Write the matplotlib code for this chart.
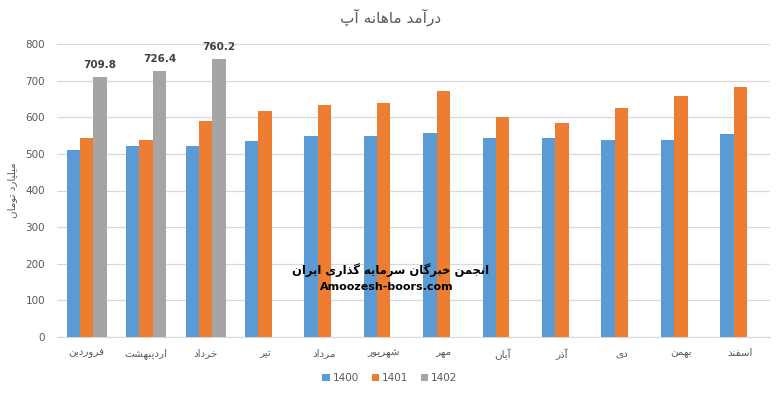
import matplotlib
matplotlib.use("Agg")
import matplotlib.pyplot as plt
import numpy as np

# ---------------- data ----------------
months = ["فروردین", "اردیبهشت", "خرداد", "تیر", "مرداد", "شهریور",
          "مهر", "آبان", "آذر", "دی", "بهمن", "اسفند"]
v1400 = [511, 522, 522, 536, 550, 550, 556, 542, 542, 539, 539, 553]
v1401 = [544, 538, 590, 618, 634, 639, 672, 601, 584, 626, 659, 683]
v1402 = [709.8, 726.4, 760.2]
series_names = ["1400", "1401", "1402"]
title_text = "درآمد ماهانه آپ"
ylabel_text = "میلیارد تومان"
watermark1 = "انجمن خبرگان سرمایه گذاری ایران"
watermark2 = "Amoozesh-boors.com"
yticks = [0, 100, 200, 300, 400, 500, 600, 700, 800]

# ---------------- minimal Arabic/Persian shaping ----------------
FORMS = {
    '\u0627': ('\uFE8D', '\uFE8E', None, None),
    '\u0622': ('\uFE81', '\uFE82', None, None),
    '\u0628': ('\uFE8F', '\uFE90', '\uFE91', '\uFE92'),
    '\u067E': ('\uFB56', '\uFB57', '\uFB58', '\uFB59'),
    '\u062A': ('\uFE95', '\uFE96', '\uFE97', '\uFE98'),
    '\u062C': ('\uFE9D', '\uFE9E', '\uFE9F', '\uFEA0'),
    '\u062E': ('\uFEA5', '\uFEA6', '\uFEA7', '\uFEA8'),
    '\u062F': ('\uFEA9', '\uFEAA', None, None),
    '\u0630': ('\uFEAB', '\uFEAC', None, None),
    '\u0631': ('\uFEAD', '\uFEAE', None, None),
    '\u0632': ('\uFEAF', '\uFEB0', None, None),
    '\u0633': ('\uFEB1', '\uFEB2', '\uFEB3', '\uFEB4'),
    '\u0634': ('\uFEB5', '\uFEB6', '\uFEB7', '\uFEB8'),
    '\u0641': ('\uFED1', '\uFED2', '\uFED3', '\uFED4'),
    '\u06AF': ('\uFB92', '\uFB93', '\uFB94', '\uFB95'),
    '\u0644': ('\uFEDD', '\uFEDE', '\uFEDF', '\uFEE0'),
    '\u0645': ('\uFEE1', '\uFEE2', '\uFEE3', '\uFEE4'),
    '\u0646': ('\uFEE5', '\uFEE6', '\uFEE7', '\uFEE8'),
    '\u0647': ('\uFEE9', '\uFEEA', '\uFEEB', '\uFEEC'),
    '\u0648': ('\uFEED', '\uFEEE', None, None),
    '\u06CC': ('\uFBFC', '\uFBFD', '\uFBFE', '\uFBFF'),
}


def shape(text):
    out = []
    n = len(text)
    for i, ch in enumerate(text):
        if ch not in FORMS:
            out.append(ch)
            continue
        iso, fin, ini, med = FORMS[ch]
        prev = text[i - 1] if i > 0 else None
        nxt = text[i + 1] if i < n - 1 else None
        join_prev = prev in FORMS and FORMS[prev][2] is not None
        join_next = nxt in FORMS and ini is not None
        if join_prev and join_next:
            out.append(med)
        elif join_prev:
            out.append(fin)
        elif join_next:
            out.append(ini)
        else:
            out.append(iso)
    return "".join(out)[::-1]


# ---------------- plot ----------------
plt.rcParams['font.family'] = ['DejaVu Sans']
TXT = '#595959'
fig = plt.figure(figsize=(7.82, 3.95), dpi=100)
ax = fig.add_axes([57 / 782, 1 - 337 / 395, (770 - 57) / 782, (337 - 44) / 395])

x = np.arange(len(months))
w = 0.224
colors = ['#5B9BD5', '#ED7D31', '#A5A5A5']
b1 = ax.bar(x - w, v1400, w, color=colors[0], label=series_names[0], zorder=3)
b2 = ax.bar(x, v1401, w, color=colors[1], label=series_names[1], zorder=3)
b3 = ax.bar(x[:len(v1402)] + w, v1402, w, color=colors[2], label=series_names[2], zorder=3)
for rect, v in zip(b3, v1402):
    ax.text(rect.get_x() + rect.get_width() / 2, v + 18, f"{v:.1f}",
            ha='center', va='bottom', fontsize=7.5, fontweight='bold',
            color='#404040', zorder=5)

ax.set_xlim(-0.5, len(months) - 0.5)
ax.set_ylim(0, 800)
ax.set_yticks(yticks)
ax.set_xticks(x)
ax.set_xticklabels([shape(m) for m in months])
ax.tick_params(axis='both', length=0, labelsize=7.5, colors=TXT)
ax.tick_params(axis='x', pad=8)
ax.tick_params(axis='y', pad=8.5)
ax.grid(axis='y', color='#D9D9D9', linewidth=0.9, zorder=0)
for s in ['top', 'right', 'left']:
    ax.spines[s].set_visible(False)
ax.spines['bottom'].set_color('#D9D9D9')

ax.set_ylabel(shape(ylabel_text), fontsize=7.5, color=TXT, labelpad=6)

fig.text(0.5, 1 - 17 / 395, shape(title_text), ha='center', va='center',
         fontsize=11, color=TXT)

fig.text(391 / 782, 1 - 270 / 395, shape(watermark1), ha='center', va='center',
         fontsize=8.3, fontweight='bold', color='black', zorder=10)
fig.text(387 / 782, 1 - 287 / 395, watermark2, ha='center', va='center',
         fontsize=8, fontweight='bold', color='black', zorder=10)

ax.legend(loc='center', bbox_to_anchor=(390 / 782, 1 - 378 / 395),
          bbox_transform=fig.transFigure, ncol=3, frameon=False,
          fontsize=7.5, handlelength=0.7, handleheight=0.7,
          handletextpad=0.3, columnspacing=1.2, labelcolor=TXT)

fig.savefig("out.png", dpi=100)
